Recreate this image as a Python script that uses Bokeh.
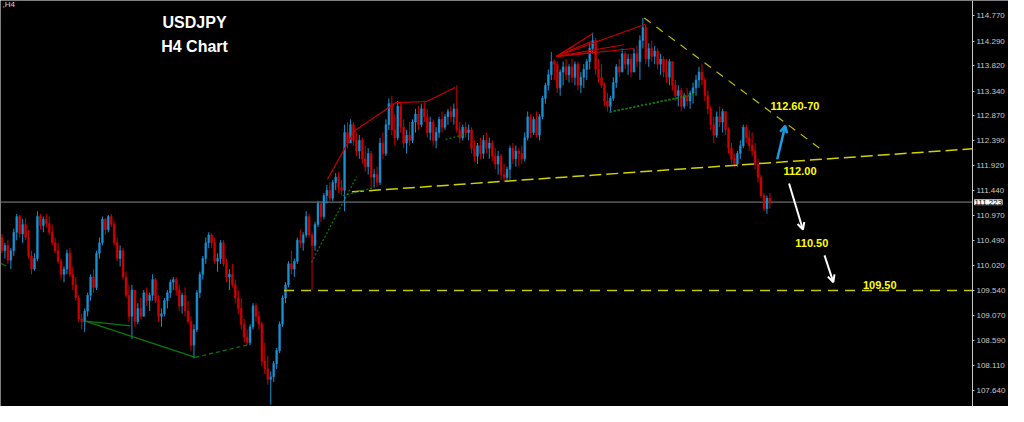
from bokeh.plotting import figure
from bokeh.models import (Range1d, FixedTicker, PrintfTickFormatter, Label, LinearAxis,
                          Arrow, OpenHead, ColumnDataSource)
from bokeh.embed import file_html
from bokeh.resources import INLINE

# ---------------- data (USDJPY H4) ----------------
open0 = 110.55
highs = [
    110.62, 110.45, 110.50, 110.35, 110.72, 111.00, 110.98, 110.90, 110.92, 110.70,
    110.30, 110.25, 111.05, 111.00, 110.95, 111.00, 110.95, 110.80, 110.55, 110.45,
    110.15, 110.00, 110.32, 110.35, 110.00, 109.80, 109.45, 109.10, 109.20, 109.50,
    109.85, 109.95, 110.30, 110.55, 110.95, 110.92, 110.98, 111.00, 110.85, 110.55,
    110.40, 110.35, 109.90, 109.65, 109.65, 109.45, 109.30, 109.40, 109.55, 109.60,
    109.50, 109.85, 109.78, 109.45, 109.20, 109.40, 109.55, 109.75, 109.80, 109.80,
    109.65, 109.50, 109.60, 109.35, 109.05, 108.90, 109.55, 109.90, 110.20, 110.55,
    110.65, 110.63, 110.55, 110.25, 110.50, 110.50, 110.15, 109.95, 110.05, 109.75,
    109.55, 109.40, 109.00, 108.80, 108.90, 109.30, 109.30, 109.15, 108.95, 108.55,
    108.30, 108.00, 108.20, 108.45, 108.95, 109.45, 109.70, 110.10, 110.30, 110.15,
    110.55, 110.70, 110.65, 111.05, 111.00, 110.65, 110.85, 111.25, 111.20, 111.40,
    111.55, 111.60, 111.65, 111.78, 111.80, 111.65, 112.70, 112.75, 112.80, 112.75,
    112.55, 112.50, 112.45, 112.30, 112.25, 112.20, 111.85, 111.90, 112.45, 112.55,
    112.80, 113.20, 113.25, 112.90, 113.15, 113.10, 112.80, 112.60, 112.75, 112.80,
    113.00, 113.05, 113.10, 113.15, 113.00, 112.85, 112.80, 112.65, 112.85, 112.95,
    112.90, 113.00, 113.05, 113.10, 113.45, 112.75, 112.70, 112.75, 112.70, 112.65,
    112.40, 112.35, 112.45, 112.50, 112.55, 112.45, 112.40, 112.25, 112.20, 112.15,
    111.95, 111.90, 112.30, 112.35, 112.30, 112.25, 112.30, 112.55, 112.95, 112.90,
    112.85, 112.95, 112.90, 113.25, 113.50, 113.75, 114.08, 113.95, 113.90, 113.75,
    113.90, 113.95, 113.85, 113.95, 113.90, 113.90, 113.70, 113.85, 113.95, 114.25,
    114.45, 114.35, 113.95, 113.85, 113.50, 113.30, 113.25, 113.60, 113.85, 113.95,
    114.15, 114.10, 114.05, 114.05, 114.15, 114.20, 114.40, 114.73, 114.60, 114.25,
    114.30, 114.20, 114.15, 114.05, 114.00, 113.95, 113.95, 113.90, 113.55, 113.45,
    113.40, 113.30, 113.40, 113.35, 113.50, 113.65, 113.80, 113.85, 113.60, 113.35,
    113.05, 112.85, 112.95, 113.05, 113.00, 112.95, 112.65, 112.35, 112.15, 112.20,
    112.40, 112.70, 112.70, 112.60, 112.55, 112.35, 112.05, 111.75, 111.40, 111.35,
    111.40,
]
lows = [
    110.25, 110.15, 110.05, 109.95, 110.20, 110.50, 110.55, 110.45, 110.50, 110.15,
    109.85, 109.92, 110.10, 110.70, 110.65, 110.75, 110.60, 110.40, 110.25, 110.05,
    109.75, 109.70, 109.85, 109.80, 109.55, 109.35, 108.95, 108.80, 108.75, 109.05,
    109.35, 109.50, 109.55, 110.15, 110.40, 110.60, 110.65, 110.75, 110.40, 110.10,
    110.00, 109.75, 109.40, 108.95, 108.62, 108.85, 108.90, 109.00, 109.05, 109.25,
    109.15, 109.35, 109.30, 108.95, 108.85, 109.05, 109.20, 109.40, 109.55, 109.45,
    109.15, 109.10, 109.05, 108.90, 108.40, 108.25, 108.75, 109.40, 109.75, 110.05,
    110.35, 110.35, 110.05, 109.90, 110.05, 110.00, 109.70, 109.55, 109.60, 109.30,
    109.10, 108.80, 108.55, 108.50, 108.50, 108.80, 108.95, 108.80, 108.10, 107.95,
    107.75, 107.37, 107.80, 108.05, 108.35, 108.85, 109.30, 109.60, 109.85, 109.80,
    110.05, 110.35, 110.30, 110.55, 110.55, 109.55, 110.30, 110.75, 110.85, 110.90,
    111.20, 111.25, 111.25, 111.45, 111.40, 111.35, 111.05, 112.25, 112.35, 112.30,
    112.10, 112.05, 111.95, 111.80, 111.75, 111.48, 111.50, 111.52, 111.55, 112.05,
    112.10, 112.60, 112.50, 112.30, 112.40, 112.55, 112.25, 112.15, 112.30, 112.35,
    112.55, 112.60, 112.65, 112.75, 112.45, 112.40, 112.30, 112.25, 112.45, 112.55,
    112.60, 112.70, 112.75, 112.70, 112.55, 112.35, 112.40, 112.45, 112.40, 112.15,
    112.00, 111.95, 112.05, 112.05, 112.15, 112.05, 112.00, 111.85, 111.75, 111.65,
    111.62, 111.63, 111.65, 111.95, 111.90, 111.90, 111.95, 112.00, 112.40, 112.45,
    112.50, 112.45, 112.40, 112.80, 113.10, 113.35, 113.55, 113.55, 113.30, 113.25,
    113.45, 113.55, 113.50, 113.50, 113.45, 113.35, 113.30, 113.40, 113.55, 113.75,
    114.05, 113.65, 113.50, 113.40, 113.05, 112.95, 112.95, 113.15, 113.40, 113.60,
    113.70, 113.75, 113.65, 113.60, 113.70, 113.80, 113.55, 114.15, 113.85, 113.80,
    113.90, 113.85, 113.75, 113.65, 113.60, 113.50, 113.45, 113.35, 113.15, 113.05,
    112.95, 113.00, 113.05, 113.00, 113.10, 113.25, 113.40, 113.45, 113.15, 112.90,
    112.60, 112.35, 112.45, 112.65, 112.55, 112.50, 112.15, 111.95, 111.90, 111.90,
    112.05, 112.25, 112.35, 112.20, 112.10, 111.85, 111.60, 111.30, 111.05, 111.00,
    111.10,
]
closes = [
    110.30, 110.40, 110.12, 110.30, 110.65, 110.95, 110.62, 110.80, 110.55, 110.20,
    109.95, 110.15, 110.95, 110.78, 110.90, 110.82, 110.65, 110.45, 110.30, 110.10,
    109.85, 109.95, 110.25, 109.85, 109.65, 109.40, 109.00, 108.95, 109.15, 109.45,
    109.80, 109.60, 110.25, 110.45, 110.90, 110.70, 110.95, 110.80, 110.45, 110.15,
    110.30, 109.80, 109.45, 109.05, 109.55, 108.95, 109.20, 109.05, 109.50, 109.35,
    109.45, 109.75, 109.35, 109.05, 109.10, 109.35, 109.50, 109.70, 109.75, 109.55,
    109.25, 109.45, 109.15, 108.95, 108.50, 108.80, 109.50, 109.85, 110.15, 110.45,
    110.60, 110.45, 110.10, 110.15, 110.45, 110.05, 109.80, 109.85, 109.65, 109.40,
    109.20, 108.90, 108.65, 108.55, 108.85, 109.25, 109.05, 108.90, 108.20, 108.05,
    107.85, 107.90, 108.15, 108.40, 108.90, 109.40, 109.65, 110.05, 109.95, 110.10,
    110.50, 110.45, 110.60, 110.95, 110.60, 110.40, 110.80, 111.20, 110.95, 111.35,
    111.45, 111.30, 111.60, 111.70, 111.50, 111.45, 112.55, 112.35, 112.70, 112.40,
    112.20, 112.40, 112.05, 111.90, 112.15, 111.70, 111.75, 111.60, 112.35, 112.15,
    112.70, 113.10, 112.60, 112.45, 113.05, 112.65, 112.35, 112.50, 112.40, 112.75,
    112.90, 112.70, 113.00, 112.85, 112.55, 112.75, 112.40, 112.55, 112.80, 112.65,
    112.85, 112.95, 112.85, 113.00, 112.60, 112.45, 112.65, 112.55, 112.60, 112.25,
    112.10, 112.30, 112.15, 112.40, 112.25, 112.35, 112.10, 111.95, 112.10, 111.75,
    111.70, 111.85, 112.25, 112.05, 112.20, 112.15, 112.05, 112.45, 112.85, 112.55,
    112.80, 112.50, 112.85, 113.20, 113.45, 113.65, 113.90, 113.85, 113.40, 113.70,
    113.80, 113.65, 113.80, 113.60, 113.85, 113.45, 113.60, 113.75, 113.90, 114.15,
    114.30, 113.75, 113.60, 113.45, 113.15, 113.05, 113.20, 113.50, 113.80, 113.70,
    114.05, 113.85, 113.95, 113.70, 114.05, 113.90, 114.30, 114.55, 113.95, 114.15,
    114.00, 114.10, 113.85, 113.95, 113.70, 113.60, 113.90, 113.45, 113.25, 113.35,
    113.05, 113.25, 113.15, 113.30, 113.40, 113.55, 113.70, 113.55, 113.25, 113.00,
    112.70, 112.50, 112.85, 112.75, 112.95, 112.60, 112.25, 112.05, 111.95, 112.15,
    112.30, 112.65, 112.45, 112.30, 112.20, 111.95, 111.70, 111.35, 111.10, 111.30,
    111.22,
]
tick_values = [114.770, 114.290, 113.820, 113.340, 112.870, 112.390, 111.920, 111.440,
               110.970, 110.490, 110.020, 109.540, 109.070, 108.590, 108.110, 107.640]
last_price = 111.223
support_level = 109.54

# ---------------- derived bar geometry ----------------
n = len(closes)
xs = list(range(n))
opens = [open0] + closes[:-1]
hi = [max(h, o, c) for h, o, c in zip(highs, opens, closes)]
lo = [min(l, o, c) for l, o, c in zip(lows, opens, closes)]
top = [max(o, c) for o, c in zip(opens, closes)]
bot = [min(o, c) for o, c in zip(opens, closes)]
UP, DOWN = "#1b90d2", "#d00000"
colors = [UP if c >= o else DOWN for o, c in zip(opens, closes)]
src = ColumnDataSource(dict(x=xs, hi=hi, lo=lo, top=top, bot=bot, color=colors))

X_AXIS = 328.6     # bar-index position of the price scale line
X_END = 340.8      # right edge of the window
p = figure(width=1008, height=406,
           x_range=Range1d(-0.5, X_END), y_range=Range1d(107.334, 115.063),
           x_axis_location=None, y_axis_location=None,
           toolbar_location=None, output_backend="svg",
           background_fill_color="black", border_fill_color="black",
           outline_line_color=None,
           min_border_left=0, min_border_top=0, min_border_bottom=0, min_border_right=0)
p.grid.visible = False

ax = LinearAxis(fixed_location=X_AXIS)
ax.ticker = FixedTicker(ticks=tick_values)
ax.formatter = PrintfTickFormatter(format="%.3f")
ax.axis_line_color = "#c8c8c8"
ax.major_tick_line_color = "#c8c8c8"
ax.major_tick_in = 0
ax.major_tick_out = 2
ax.minor_tick_line_color = None
ax.major_label_standoff = 2
ax.major_label_text_color = "#c8c8c8"
ax.major_label_text_font = "Liberation Sans"
ax.major_label_text_font_size = "8px"
p.add_layout(ax, "right")

# current price line
p.line([-0.5, X_AXIS], [last_price, last_price], line_color="#6e6e6e", line_width=1.2)

# bars
p.segment(x0="x", y0="lo", x1="x", y1="hi", color="color", line_width=1, source=src)
p.vbar(x="x", top="top", bottom="bot", width=0.62, fill_color="color", line_color="color",
       line_width=0.5, source=src)

# support dashed line
p.line([95.5, X_AXIS], [support_level, support_level], line_color="#c8c800", line_width=1.5,
       line_dash="10 7")
# neckline
p.line([118.5, X_AXIS], [111.42, 112.24], line_color="#d2d200", line_width=1.5, line_dash="12 5")
# descending resistance
p.line([217.5, 278.5], [114.73, 112.18], line_color="#bcbc00", line_width=1.2, line_dash="8 7")

# red zigzag lines
RED = "#c80000"
p.line([110.2, 119.5, 133.5, 143.8, 153.5], [111.66, 112.59, 113.12, 113.14, 113.41],
       line_color=RED, line_width=1.2)
fan_x = [200.2, 217.8, 193.8, 199.5, 210.5, 213.8, 199.5]
fan_y = [114.44, 114.61, 114.20, 114.28, 114.22, 114.15, 114.07]
p.segment(x0=[187.8] * len(fan_x), y0=[114.0] * len(fan_y), x1=fan_x, y1=fan_y,
          line_color=RED, line_width=1.1)

# green pattern lines
GREEN = "#0b7a0b"
p.segment(x0=[28.2, 28.2, -0.5], y0=[108.96, 108.96, 110.06],
          x1=[43.5, 65.5, 1.5], y1=[108.87, 108.27, 110.01], line_color=GREEN, line_width=1.2)
p.line([65.5, 83.5], [108.27, 108.51], line_color=GREEN, line_width=1.2, line_dash="4 3")
p.segment(x0=[104.8, 115.5, 150.2, 205.8, 205.8, 205.8],
          y0=[110.08, 111.35, 112.42, 112.94, 112.94, 112.94],
          x1=[120.1, 125.2, 157.2, 235.2, 232.8, 229.5],
          y1=[111.71, 111.49, 112.52, 113.29, 113.25, 113.21],
          line_color=GREEN, line_width=1.3, line_dash="2 2")

# arrows
p.add_layout(Arrow(end=OpenHead(line_color="#1e9be0", line_width=2.5, size=7),
                   x_start=262.5, y_start=112.04, x_end=265.2, y_end=112.68,
                   line_color="#1e9be0", line_width=2.5))
p.add_layout(Arrow(end=OpenHead(line_color="white", line_width=2, size=7),
                   x_start=266.5, y_start=111.58, x_end=271.2, y_end=110.70,
                   line_color="white", line_width=2))
p.add_layout(Arrow(end=OpenHead(line_color="white", line_width=2, size=7),
                   x_start=278.5, y_start=110.21, x_end=281.5, y_end=109.70,
                   line_color="white", line_width=2))

# texts
def lbl(x, y, t, color, size, bold=True, align="center"):
    p.add_layout(Label(x=x, y=y, text=t, text_color=color, text_font="Liberation Sans",
                       text_font_size=size, text_font_style="bold" if bold else "normal",
                       text_align=align, text_baseline="middle"))

lbl(65.2, 114.64, "USDJPY", "white", "16px")
lbl(65.2, 114.19, "H4 Chart", "white", "16px")
lbl(268.5, 113.06, "112.60-70", "#ffff00", "11px")
lbl(270.2, 111.82, "112.00", "#ffff00", "11px")
lbl(274.2, 110.45, "110.50", "#ffff00", "11px")
lbl(297.2, 109.64, "109.50", "#ffff00", "11px")
lbl(0.2, 114.99, ",H4", "#d8d8d8", "8px", bold=False, align="left")

# price box on the scale
p.add_layout(Label(x=X_AXIS, y=last_price, x_offset=2, text="111.223", text_color="black",
                   text_font="Liberation Sans", text_font_size="8px",
                   text_align="left", text_baseline="middle",
                   background_fill_color="white", border_line_color="#c8c8c8"))

open("out.html", "w").write(file_html(p, INLINE))
